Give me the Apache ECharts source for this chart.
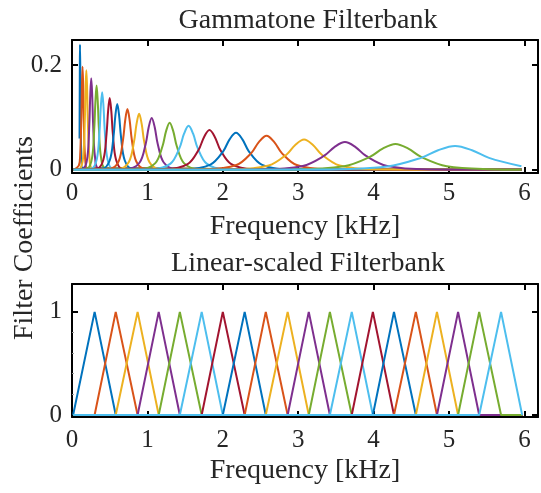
<!DOCTYPE html>
<html><head><meta charset="utf-8">
<script src="https://cdn.jsdelivr.net/npm/echarts@6/dist/echarts.min.js"></script>
<style>html,body{margin:0;padding:0;background:#fff}#c{width:541px;height:493px}</style>
</head><body><div id="c"></div>
<script>
// MATLAB default colour order
const colors = ['#0072BD','#D95319','#EDB120','#7E2F8E','#77AC30','#4DBEEE','#A2142F'];
const freqTicks = [0,1,2,3,4,5,6];
const gtTicks = [0,0.2];
const linTicks = [0,1];
const linMinorTicks = [0.2,0.4,0.6,0.8];
const titles = ['Gammatone Filterbank','Linear-scaled Filterbank'];
const xName = 'Frequency [kHz]';
const yName = 'Filter Coefficients';

// Gammatone filters: points [kHz, coefficient]
const gtStart = [0.02,0];
const gtEnd = [5.96,0];
const gammatone = [
 [[0.100,0.060],[0.104,0.200],[0.106,0.239],[0.110,0.196],[0.114,0.120],[0.122,0.034],[0.138,0.004]],
 [[0.090,0.008],[0.108,0.028],[0.124,0.099],[0.132,0.162],[0.140,0.197],[0.148,0.162],[0.156,0.099],[0.172,0.028],[0.204,0.003]],
 [[0.110,0.003],[0.150,0.027],[0.170,0.095],[0.180,0.156],[0.190,0.190],[0.200,0.156],[0.210,0.095],[0.230,0.027],[0.270,0.003]],
 [[0.155,0.003],[0.205,0.025],[0.230,0.088],[0.2425,0.144],[0.255,0.175],[0.2675,0.144],[0.280,0.088],[0.305,0.025],[0.355,0.003]],
 [[0.206,0.003],[0.266,0.023],[0.296,0.081],[0.311,0.132],[0.326,0.161],[0.341,0.132],[0.356,0.081],[0.386,0.023],[0.446,0.003]],
 [[0.260,0.0025],[0.330,0.021],[0.365,0.074],[0.3825,0.1215],[0.400,0.148],[0.4175,0.1215],[0.435,0.074],[0.470,0.021],[0.540,0.0025]],
 [[0.332,0.0024],[0.416,0.0194],[0.458,0.0685],[0.479,0.1125],[0.500,0.137],[0.521,0.1125],[0.542,0.0685],[0.584,0.0194],[0.668,0.0024]],
 [[0.400,0.0022],[0.500,0.0179],[0.550,0.063],[0.575,0.1034],[0.600,0.126],[0.625,0.1034],[0.650,0.063],[0.700,0.0179],[0.800,0.0022]],
 [[0.503,0.002],[0.619,0.0164],[0.677,0.058],[0.706,0.0952],[0.735,0.116],[0.764,0.0952],[0.793,0.058],[0.851,0.0164],[0.967,0.002]],
 [[0.618,0.0018],[0.754,0.0152],[0.822,0.0535],[0.856,0.0878],[0.890,0.107],[0.924,0.0878],[0.958,0.0535],[1.026,0.0152],[1.162,0.0018]],
 [[0.737,0.0017],[0.897,0.014],[0.977,0.0495],[1.017,0.0813],[1.057,0.099],[1.097,0.0813],[1.137,0.0495],[1.217,0.014],[1.377,0.0017]],
 [[0.915,0.0015],[1.105,0.0128],[1.200,0.045],[1.2475,0.0739],[1.295,0.090],[1.3425,0.0739],[1.390,0.045],[1.485,0.0128],[1.675,0.0015]],
 [[1.066,0.0014],[1.306,0.0119],[1.426,0.042],[1.486,0.069],[1.546,0.084],[1.606,0.069],[1.666,0.042],[1.786,0.0119],[2.026,0.0014]],
 [[1.243,0.0013],[1.533,0.0108],[1.678,0.038],[1.7505,0.0624],[1.823,0.076],[1.8955,0.0624],[1.968,0.038],[2.113,0.0108],[2.403,0.0013]],
 [[1.495,0.0012],[1.835,0.0101],[2.005,0.0355],[2.090,0.0583],[2.175,0.071],[2.260,0.0583],[2.345,0.0355],[2.515,0.0101],[2.855,0.0012]],
 [[1.780,0.0011],[2.180,0.0092],[2.380,0.0325],[2.480,0.0534],[2.580,0.065],[2.680,0.0534],[2.780,0.0325],[2.980,0.0092],[3.380,0.0011]],
 [[2.138,0.001],[2.608,0.0082],[2.843,0.029],[2.9605,0.0476],[3.078,0.058],[3.1955,0.0476],[3.313,0.029],[3.548,0.0082],[4.018,0.001]],
 [[2.500,0.0009],[3.060,0.0075],[3.340,0.0265],[3.480,0.0435],[3.620,0.053],[3.760,0.0435],[3.900,0.0265],[4.180,0.0075],[4.740,0.0009]],
 [[2.930,0.00085],[3.610,0.007],[3.950,0.0248],[4.120,0.0406],[4.290,0.0495],[4.460,0.0406],[4.630,0.0248],[4.970,0.007],[5.650,0.00085]],
 [[3.280,0.0008],[4.180,0.0065],[4.630,0.0229],[4.855,0.0375],[5.080,0.0457],[5.305,0.0375],[5.530,0.0229],[5.960,0.0068]]
];

// Linear (triangular) filters: peak frequencies in kHz
const triPeaks = [0.30,0.58,0.87,1.15,1.43,1.72,2.00,2.29,2.57,2.86,3.14,3.42,3.71,3.99,4.27,4.56,4.84,5.12,5.40,5.69];
const triFirstEdge = 0.015;
const triLastEdge = 5.97;
const triPeakValue = 1;

const font = '"Liberation Serif", "Times New Roman", serif';
const txt = '#262626';

function gtSeries(i){
  const pts = gammatone[i].slice();
  const last = pts[pts.length-1];
  if (i > 0) pts.unshift(gtStart);
  if (last[0] < gtEnd[0]) pts.push(gtEnd);
  return pts;
}
function triSeries(i){
  const l = i === 0 ? triFirstEdge : triPeaks[i-1];
  const r = i === triPeaks.length-1 ? triLastEdge : triPeaks[i+1];
  return [[triFirstEdge,0],[l,0],[triPeaks[i],triPeakValue],[r,0],[triLastEdge,0]];
}

const series = [];
gammatone.forEach((g,i)=>{
  series.push({type:'line',xAxisIndex:0,yAxisIndex:0,data:gtSeries(i),symbol:'none',smooth:0.35,
    lineStyle:{width:2,color:colors[i%7]},itemStyle:{color:colors[i%7]},silent:true,clip:true});
});
triPeaks.forEach((p,i)=>{
  series.push({type:'line',xAxisIndex:2,yAxisIndex:2,data:triSeries(i),symbol:'none',
    lineStyle:{width:2,color:colors[i%7]},itemStyle:{color:colors[i%7]},silent:true,clip:true});
});

const axLine = {show:true,onZero:false,lineStyle:{color:'#000',width:2}};
function xAx(grid,pos,labels,margin){
  return {type:'value',gridIndex:grid,position:pos,min:0,max:6.18,
    axisLine:axLine,
    axisTick:{show:true,inside:true,length:6,customValues:freqTicks,lineStyle:{color:'#000',width:2}},
    axisLabel:{show:labels,customValues:freqTicks,fontSize:25,fontFamily:font,color:txt,margin:margin},
    splitLine:{show:false},
    name: labels ? xName : '', nameLocation:'middle', nameGap:40,
    nameTextStyle:{fontSize:28,fontFamily:font,color:txt}};
}
function yAx(grid,pos,labels,min,max,ticks){
  return {type:'value',gridIndex:grid,position:pos,min:min,max:max,
    axisLine:axLine,
    axisTick:{show:true,inside:true,length:6,customValues:ticks,lineStyle:{color:'#000',width:2}},
    axisLabel:{show:labels,customValues:ticks,fontSize:25,fontFamily:font,color:txt,margin:10},
    splitLine:{show:false}};
}

const option = {
  animation:false,
  backgroundColor:'#fff',
  title:[
    {text:titles[0],left:303,top:2,textAlign:'center',textStyle:{fontSize:28,fontWeight:'normal',fontFamily:font,color:txt}},
    {text:titles[1],left:303,top:245,textAlign:'center',textStyle:{fontSize:28,fontWeight:'normal',fontFamily:font,color:txt}}
  ],
  grid:[
    {left:72,top:40,width:466,height:133},
    {left:72,top:284,width:466,height:133}
  ],
  xAxis:[xAx(0,'bottom',true,8),xAx(0,'top',false,0),xAx(1,'bottom',true,11),xAx(1,'top',false,0)],
  yAxis:[
    yAx(0,'left',true,-0.006,0.248,gtTicks),
    yAx(0,'right',false,-0.006,0.248,gtTicks),
    yAx(1,'left',true,-0.02,1.27,linTicks),
    yAx(1,'right',false,-0.02,1.27,linTicks),
    {type:'value',gridIndex:1,position:'left',min:-0.02,max:1.27,axisLine:{show:false},
      axisTick:{show:true,inside:true,length:2,customValues:linMinorTicks,lineStyle:{color:'#999',width:1}},
      axisLabel:{show:false},splitLine:{show:false}}
  ],
  graphic:[{type:'text',rotation:Math.PI/2,x:25,y:238,
    style:{text:yName,font:'28px "Liberation Serif", serif',fill:txt,textAlign:'center',textVerticalAlign:'middle'}}],
  series:series
};
const chart = echarts.init(document.getElementById('c'),null,{renderer:'canvas'});
chart.setOption(option);
</script></body></html>
